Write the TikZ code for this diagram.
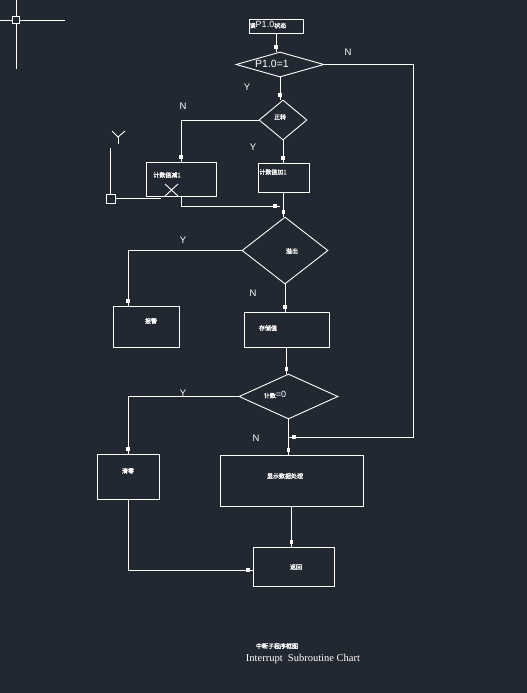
\documentclass[tikz,border=0pt]{standalone}
\usepackage{fontspec}
\setmainfont{Liberation Sans}
\newfontfamily\cjk[FakeBold=1.5]{Noto Sans CJK SC}
\newfontfamily\enserif{Liberation Serif}
\usetikzlibrary{shapes.geometric,decorations.markings}
\definecolor{bgc}{RGB}{34,40,49}
\begin{document}
\begin{tikzpicture}[x=1pt,y=-1pt,line width=0.9pt,white,
  box/.style={draw=white,rectangle,inner sep=0pt},
  dia/.style={draw=white,diamond,inner sep=0pt},
  cn/.style={font=\cjk\fontsize{6}{6.5}\selectfont,text=white,inner sep=0pt},
  lbl/.style={font=\fontsize{9.5}{10}\selectfont,text=white,inner sep=0pt},
  conn/.style={draw=white,line width=0.9pt},
  mk/.style={postaction={decorate},decoration={markings,
     mark=at position -5pt with {\fill[white] (-2pt,-1.6pt) rectangle (2pt,1.6pt);}}}
]
\fill[bgc] (0,0) rectangle (527,693);
\useasboundingbox (0,0) rectangle (527,693);

% CAD crosshair
\draw[line width=0.9pt] (16,0) -- (16,69);
\draw[line width=0.9pt] (0,20) -- (65,20);
\draw[line width=0.9pt,fill=bgc] (12.5,16.5) rectangle (19.5,23.5);

% UCS icon
\draw (110,148) -- (110,194);
\draw (115.5,198) -- (161,198);
\draw (106.5,194.5) rectangle (115.5,203);
\draw (112,131) -- (118,137) -- (125,131);
\draw (118,137) -- (118,144);

% boxes
\node[box,minimum width=54pt,minimum height=14pt] (top) at (276,26) {};
\node[dia,minimum width=88pt,minimum height=25pt] (d1) at (280,64.5) {};
\node[dia,minimum width=48pt,minimum height=40pt] (d2) at (283,120) {};
\node[box,minimum width=70pt,minimum height=34pt] (l1) at (181,179) {};
\node[box,minimum width=51pt,minimum height=29pt] (r1) at (283.5,177.5) {};
\node[dia,minimum width=86pt,minimum height=67pt] (d3) at (285,250.5) {};
\node[box,minimum width=66pt,minimum height=41pt] (l2) at (146,326.5) {};
\node[box,minimum width=85pt,minimum height=35pt] (m2) at (286.5,329.5) {};
\node[dia,minimum width=99pt,minimum height=45pt] (d4) at (288.5,396.5) {};
\node[box,minimum width=62pt,minimum height=45pt] (l3) at (128,476.5) {};
\node[box,minimum width=143pt,minimum height=51pt] (m3) at (291.5,480.5) {};
\node[box,minimum width=81pt,minimum height=39pt] (f) at (293.5,566.5) {};

% texts
\node[cn] (ttop) at (268,25) {读{\fontsize{9}{10}\fontspec{Liberation Sans}P1.0}状态};
\node[lbl,font=\fontsize{10.5}{11}\selectfont] (td1) at (272,63.5) {P1.0=1};
\node[cn] (td2) at (280,117) {正转};
\node[cn] (tl1) at (167,175) {计数值减1};
\node[cn] (tr1) at (273,172) {计数值加1};
\node[cn] (td3) at (292,251) {溢出};
\node[cn] (tl2) at (151,321) {报警};
\node[cn] (tm2) at (268,328) {存储值};
\node[lbl,font=\fontsize{9}{10}\selectfont] (td4) at (275,395) {{\cjk\fontsize{6}{6.5}\selectfont 计数}=0};
\node[cn] (tl3) at (128,471) {清零};
\node[cn] (tm3) at (285,476) {显示数据处理};
\node[cn] (tf) at (296,567) {返回};
\node[cn] (cap1) at (277,646) {中断子程序框图};
\node[text=white,inner sep=0pt,font=\enserif\fontsize{10.5}{11}\selectfont] (cap2) at (303,658.5) {Interrupt\ \ Subroutine Chart};

% Y/N labels
\node[lbl] (n1) at (348,52) {N};
\node[lbl] (y1) at (247,87) {Y};
\node[lbl] (n2) at (183,106) {N};
\node[lbl] (y2) at (253,147) {Y};
\node[lbl] (y3) at (183,240) {Y};
\node[lbl] (n3) at (253,293) {N};
\node[lbl] (y4) at (183,393) {Y};
\node[lbl] (n4) at (256,438) {N};

% X mark in box
\draw (165,184) -- (178,196);
\draw (178,184) -- (165,196);

% helper coordinates
\coordinate (j1) at (280,206);
\coordinate (c2) at (128,306);
\coordinate (rc) at (413,437);
\coordinate (j2) at (289,437);
\coordinate (fw) at (253,570);

% connectors
\draw[conn,mk] (top.south) -- (top.south |- d1.north);
\draw[conn,mk] (d1.south) -- (d1.south |- d2.north);
\draw[conn,mk] (d2.west) -| (l1.north);
\draw[conn,mk] (d2.south) -- (d2.south |- r1.north);
\draw[conn,mk] (l1.south) |- (j1);
\draw[conn,mk] (r1.south) -- (r1.south |- d3.north);
\draw[conn,mk] (d3.west) -| (c2);
\draw[conn,mk] (d3.south) -- (d3.south |- m2.north);
\draw[conn,mk] (m2.south) -- (m2.south |- d4.north);
\draw[conn,mk] (d4.west) -| (l3.north);
\draw[conn,mk] (d4.south) -- (d4.south |- m3.north);
\draw[conn,mk] (d1.east) -| (rc) -- (j2);
\draw[conn,mk] (m3.south) -- (m3.south |- f.north);
\draw[conn,mk] (l3.south) |- (fw);
\end{tikzpicture}
\end{document}
